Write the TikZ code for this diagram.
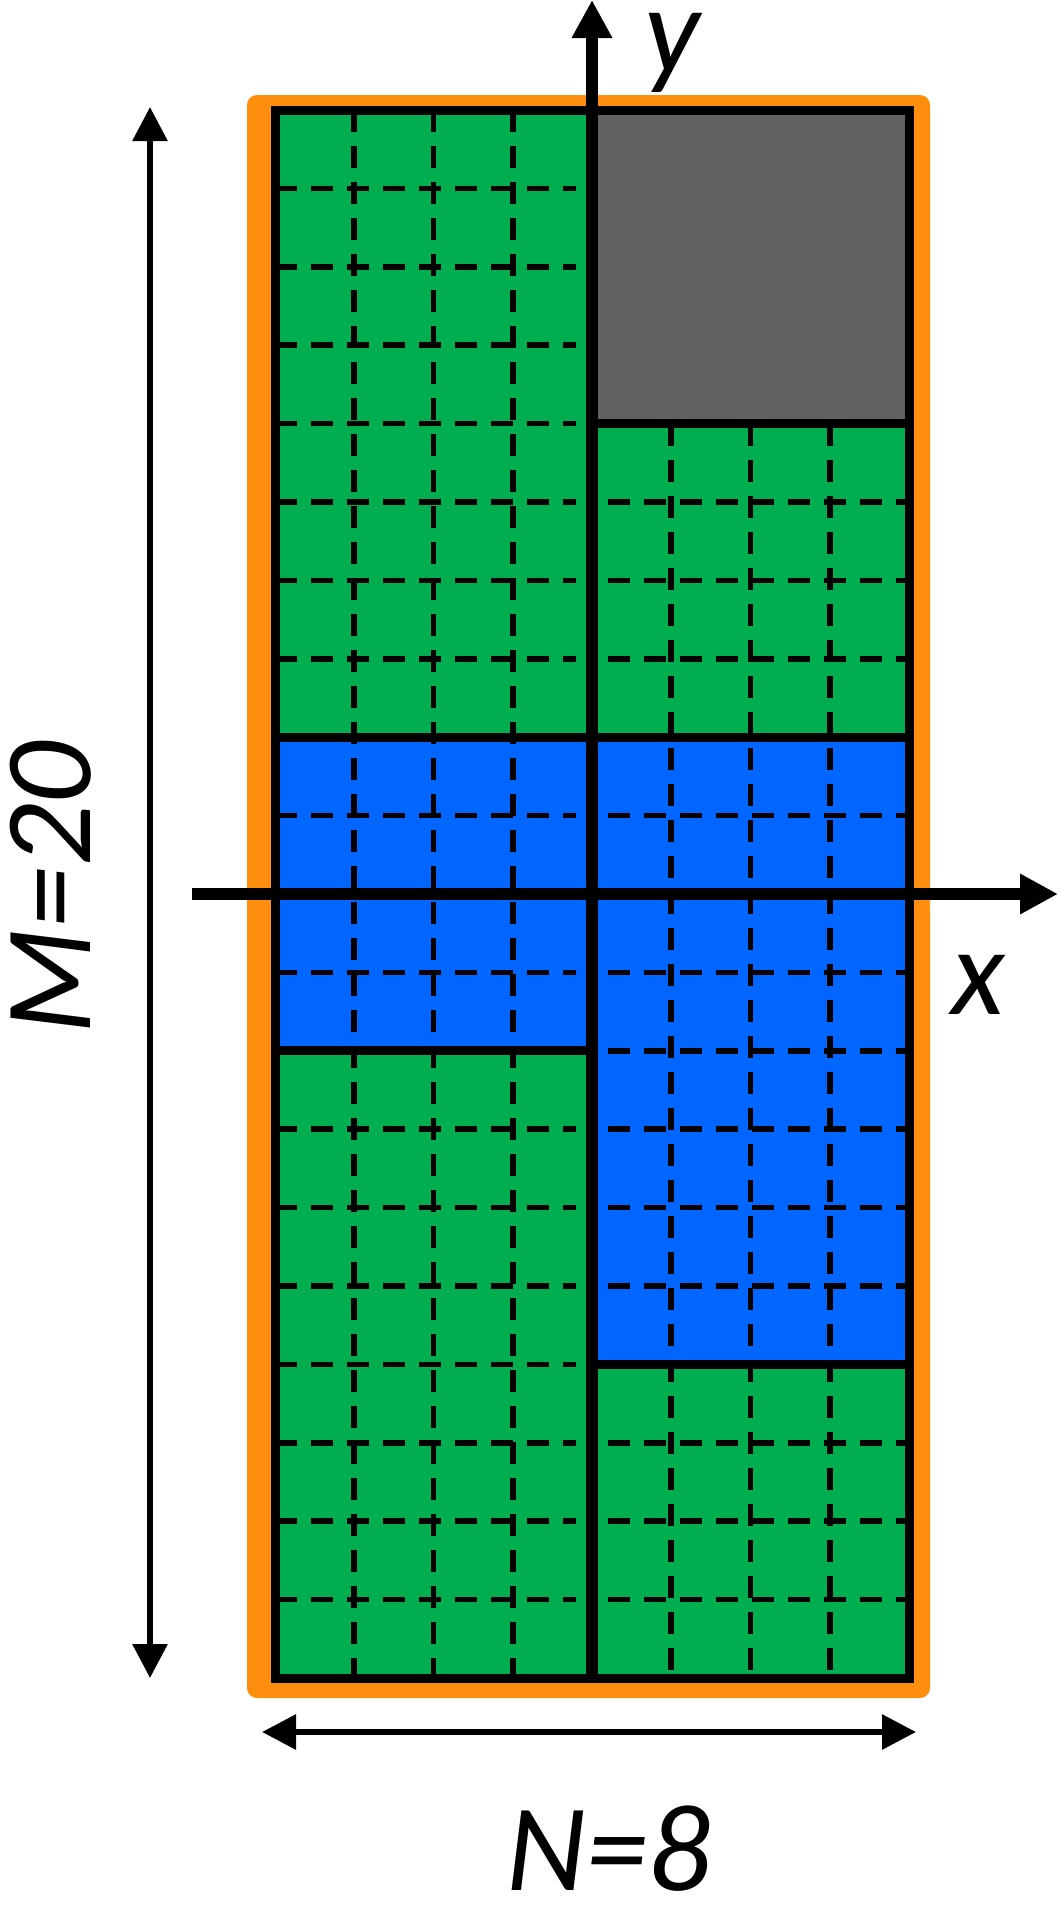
\documentclass[tikz,border=0pt]{standalone}
\usepackage{fontspec}
\setmainfont{Carlito}
\usetikzlibrary{arrows.meta}
\definecolor{gGreen}{HTML}{00AE4F}
\definecolor{gBlue}{HTML}{0066FF}
\definecolor{gGray}{HTML}{616161}
\definecolor{gOrange}{HTML}{FF8E0E}
\begin{document}
\begin{tikzpicture}[x=0.5pt,y=-0.5pt,
  region/.style={draw=black,line width=4.5pt,line join=miter},
  gridline/.style={draw=black,line width=2.8pt,dash pattern=on 11pt off 7pt},
  axis/.style={line width=6pt,-{Triangle[width=19pt,length=19pt]}},
  dim/.style={line width=3pt,{Triangle[width=17pt,length=17pt]}-{Triangle[width=17pt,length=17pt]}},
  lbl/.style={font=\fontsize{62}{68}\selectfont\itshape,inner sep=0pt}]
\useasboundingbox (0,0) rectangle (1061,1911);
\fill[gOrange,rounded corners=5pt] (247,95) rectangle (930,1698);
\begin{scope}[shift={(275,110)}]
\begin{scope}[x=39.625pt,y=-39.2pt]
 % fills
 \fill[gGreen] (0,0) rectangle (4,8);
 \fill[gGray] (4,0) rectangle (8,4);
 \fill[gGreen] (4,4) rectangle (8,8);
 \fill[gBlue] (0,8) rectangle (4,12);
 \fill[gBlue] (4,8) rectangle (8,16);
 \fill[gGreen] (0,12) rectangle (4,20);
 \fill[gGreen] (4,16) rectangle (8,20);
 % dashed grid
 \foreach \r in {1,...,7,9,11,13,14,...,19}
   \draw[gridline] (0,\r) -- (3.8,\r);
 \foreach \r in {5,6,7,9,11,12,13,14,15,17,18,19}
   \draw[gridline] (4.2,\r) -- (8,\r);
 \foreach \c in {1,2,3}
   \draw[gridline] (\c,0) -- (\c,20);
 \foreach \c in {5,6,7}
   \draw[gridline] (\c,4) -- (\c,20);
 % region borders
 \draw[region] (0,0) rectangle (4,8);
 \draw[region] (4,0) rectangle (8,4);
 \draw[region] (4,4) rectangle (8,8);
 \draw[region] (0,8) rectangle (4,12);
 \draw[region] (4,8) rectangle (8,16);
 \draw[region] (0,12) rectangle (4,20);
 \draw[region] (4,16) rectangle (8,20);
\end{scope}
\end{scope}
% axes
\coordinate (ybot) at (592,1678);
\coordinate (ytop) at (592,0);
\coordinate (xleft) at (192,894);
\coordinate (xright) at (1058,894);
\draw[axis] (ybot) -- (ytop);
\draw[axis] (xleft) -- (xright);
% dimension arrows
\coordinate (nl) at (262,1732);
\coordinate (nr) at (916,1732);
\coordinate (mt) at (150,107);
\coordinate (mb) at (150,1678);
\draw[dim] (nl) -- (nr);
\draw[dim] (mt) -- (mb);
% labels
\node[lbl,anchor=base] (ylbl) at (672,72) {y};
\node[lbl] (xlbl) at (978,985) {x};
\node[lbl,rotate=90,anchor=base] (mlbl) at (90,888) {M=20};
\node[lbl,anchor=base] (nlbl) at (609,1890) {N=8};
\end{tikzpicture}
\end{document}
